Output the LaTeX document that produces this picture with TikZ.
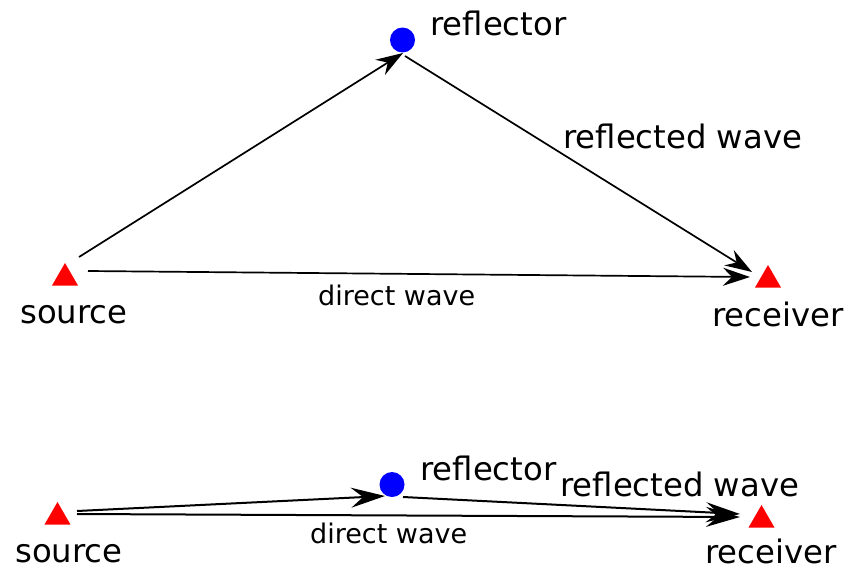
\documentclass[tikz,border=0pt]{standalone}
\usepackage{fontspec}
\setmainfont{DejaVu Sans}
\usetikzlibrary{arrows.meta,shapes.geometric}
\tikzset{
  tri/.style={draw=none,fill=red,regular polygon,regular polygon sides=3,minimum size=30pt,inner sep=0pt},
  refl/.style={circle,fill=blue,draw=none,minimum size=25pt,inner sep=0pt},
  lbl/.style={anchor=base west,inner sep=0pt,font=\fontsize{32.3}{32.3}\selectfont},
  dlbl/.style={anchor=base west,inner sep=0pt,font=\fontsize{27}{27}\selectfont},
  wave/.style={draw=black,line width=1.7pt,-{Stealth[length=27pt,width=18pt,inset=9pt]}},
  waveb/.style={draw=black,line width=2pt,-{Stealth[length=34pt,width=20pt,inset=12pt]}},
}
\begin{document}
\begin{tikzpicture}[x=1pt,y=-1pt]
\useasboundingbox (0,0) rectangle (845,570);
% ---- top
\node[tri] (src) at (65,278) {};
\node[tri] (rcv) at (768,280) {};
\node[refl] (rf) at (402.5,40) {};
\node[lbl] (tsrc) at (20,323) {source};
\node[lbl] (trcv) at (712,326) {receiver};
\node[lbl] (trf) at (430,35) {reflector};
\node[lbl] (trw) at (563,148) {reflected wave};
\node[dlbl] (tdw) at (318,305) {direct wave};
\coordinate (a1) at (79,257);
\coordinate (a2) at (403,53);
\coordinate (b1) at (405,56);
\coordinate (b2) at (752,272);
\coordinate (c1) at (88,271);
\coordinate (c2) at (750,277);
\draw[wave] (a1) -- (a2);
\draw[wave] (b1) -- (b2);
\draw[wave] (c1) -- (c2);
% ---- bottom
\node[tri] (bsrc) at (57.5,517) {};
\node[tri] (brcv) at (761.5,520) {};
\node[refl] (brf) at (392,484.5) {};
\node[lbl] (bsrct) at (15,562) {source};
\node[lbl] (brcvt) at (705,563) {receiver};
\node[lbl] (brft) at (420,480) {reflector};
\node[lbl] (brwt) at (560,496) {reflected wave};
\node[dlbl] (bdwt) at (310,543) {direct wave};
\coordinate (d1) at (77,511);
\coordinate (d2) at (385,496);
\coordinate (e1) at (403,497);
\coordinate (e2) at (740,514);
\coordinate (f1) at (77,514);
\coordinate (f2) at (740,517);
\draw[waveb] (d1) -- (d2);
\draw[waveb] (e1) -- (e2);
\draw[waveb] (f1) -- (f2);
\end{tikzpicture}
\end{document}
